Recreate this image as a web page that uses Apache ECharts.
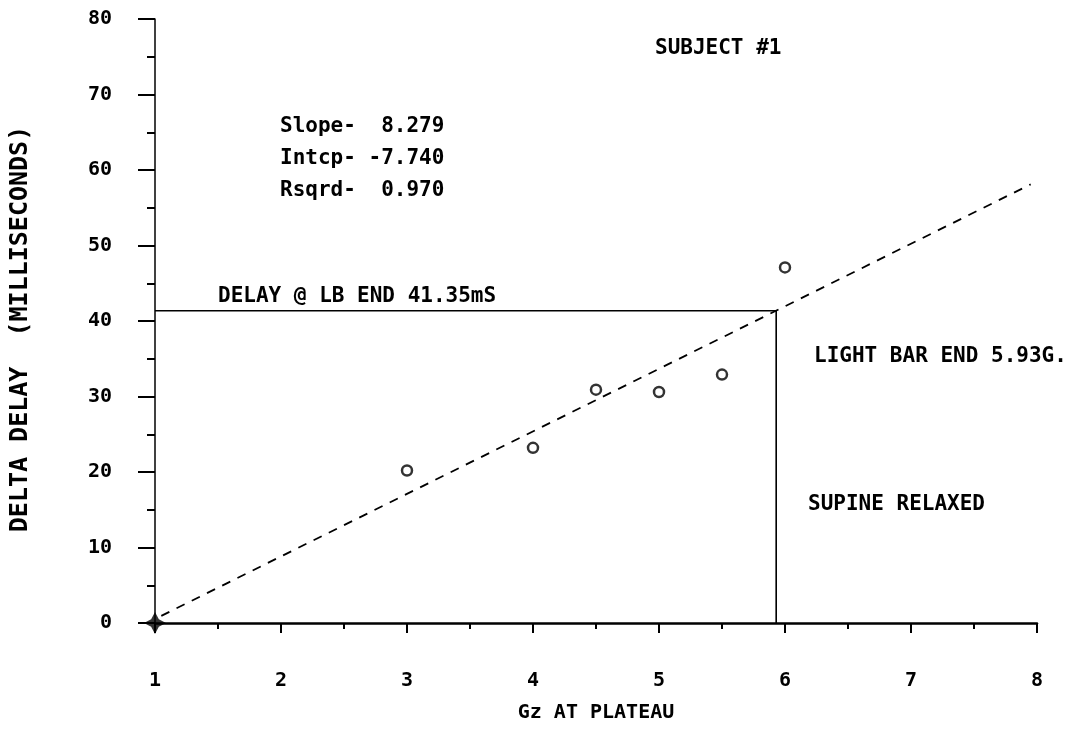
<!DOCTYPE html>
<html>
<head>
<meta charset="utf-8">
<script src="https://cdn.jsdelivr.net/npm/echarts@6/dist/echarts.min.js"></script>
<style>
  html, body { margin: 0; padding: 0; background: #fff; }
  #chart { width: 1076px; height: 731px; }
</style>
</head>
<body>
<div id="chart"></div>
<script>
  // measured points, Gz at plateau vs delta delay (ms)
  var gzValues = [3, 4, 4.5, 5, 5.5, 6];
  var delayValues = [20.2, 23.2, 30.9, 30.6, 32.9, 47.1];
  var originPoint = [1, 0];
  // fitted line end points (slope 8.279, intcp -7.740)
  var fitLine = [[1.05, 0.95], [7.95, 58.1]];
  // light bar end marker: 5.93 G / 41.35 ms
  var lbEnd = [[1, 41.35], [5.93, 41.35], [5.93, 0]];
  var statsLines = ['Slope-  8.279', 'Intcp- -7.740', 'Rsqrd-  0.970'];

  var font = 'DejaVu Sans Mono';
  var chart = echarts.init(document.getElementById('chart'));

  var scatterData = [];
  for (var i = 0; i < gzValues.length; i++) scatterData.push([gzValues[i], delayValues[i]]);

  // text placed by its left edge and vertical centre
  function txt(x, y, s) {
    return {
      type: 'text', x: x, y: y,
      style: { text: s, fill: '#000', font: 'bold 21px "' + font + '"', verticalAlign: 'middle' }
    };
  }

  chart.setOption({
    backgroundColor: '#ffffff',
    animation: false,
    grid: { left: 155, right: 39, top: 19, bottom: 108 },
    xAxis: {
      type: 'value', min: 1, max: 8, interval: 1,
      name: 'Gz AT PLATEAU', nameLocation: 'middle', nameGap: 80,
      nameTextStyle: { color: '#000', fontFamily: font, fontWeight: 'bold', fontSize: 20 },
      axisLine: { show: true, onZero: false, lineStyle: { color: '#000', width: 2.5 } },
      axisTick: { show: true, length: 10, lineStyle: { color: '#000', width: 2 } },
      minorTick: { show: true, splitNumber: 2, length: 6, lineStyle: { color: '#000', width: 2 } },
      axisLabel: { color: '#000', fontFamily: font, fontWeight: 'bold', fontSize: 20, margin: 48 },
      splitLine: { show: false }
    },
    yAxis: {
      type: 'value', min: 0, max: 80, interval: 10,
      name: 'DELTA DELAY  (MILLISECONDS)', nameLocation: 'middle', nameGap: 122,
      nameTextStyle: { color: '#000', fontFamily: font, fontWeight: 'bold', fontSize: 25, padding: [0, 16, 0, 0] },
      axisLine: { show: true, lineStyle: { color: '#000', width: 1.5 } },
      axisTick: { show: true, length: 17, lineStyle: { color: '#000', width: 2 } },
      minorTick: { show: true, splitNumber: 2, length: 8, lineStyle: { color: '#000', width: 2 } },
      axisLabel: { color: '#000', fontFamily: font, fontWeight: 'bold', fontSize: 20, margin: 43 },
      splitLine: { show: false }
    },
    series: [
      {
        type: 'line', data: fitLine, symbol: 'none',
        lineStyle: { color: '#000', width: 1.8, type: [9, 8] }
      },
      {
        type: 'line', data: lbEnd, symbol: 'none',
        lineStyle: { color: '#000', width: 1.6 }
      },
      {
        type: 'scatter', data: scatterData, symbol: 'circle', symbolSize: 10,
        itemStyle: { color: '#fff', borderColor: '#000', borderWidth: 2.5 }
      },
      {
        type: 'scatter', data: [originPoint], symbolSize: 22,
        symbol: 'path://M0,-10 L3.5,-3.5 L10,0 L3.5,3.5 L0,10 L-3.5,3.5 L-10,0 L-3.5,-3.5 Z',
        itemStyle: { color: '#000' }
      }
    ],
    graphic: [
      txt(655, 49, 'SUBJECT #1'),
      txt(280, 127, statsLines[0]),
      txt(280, 159, statsLines[1]),
      txt(280, 191, statsLines[2]),
      txt(218, 297, 'DELAY @ LB END 41.35mS'),
      txt(814, 357, 'LIGHT BAR END 5.93G.'),
      txt(808, 505, 'SUPINE RELAXED')
    ]
  });
</script>
</body>
</html>
